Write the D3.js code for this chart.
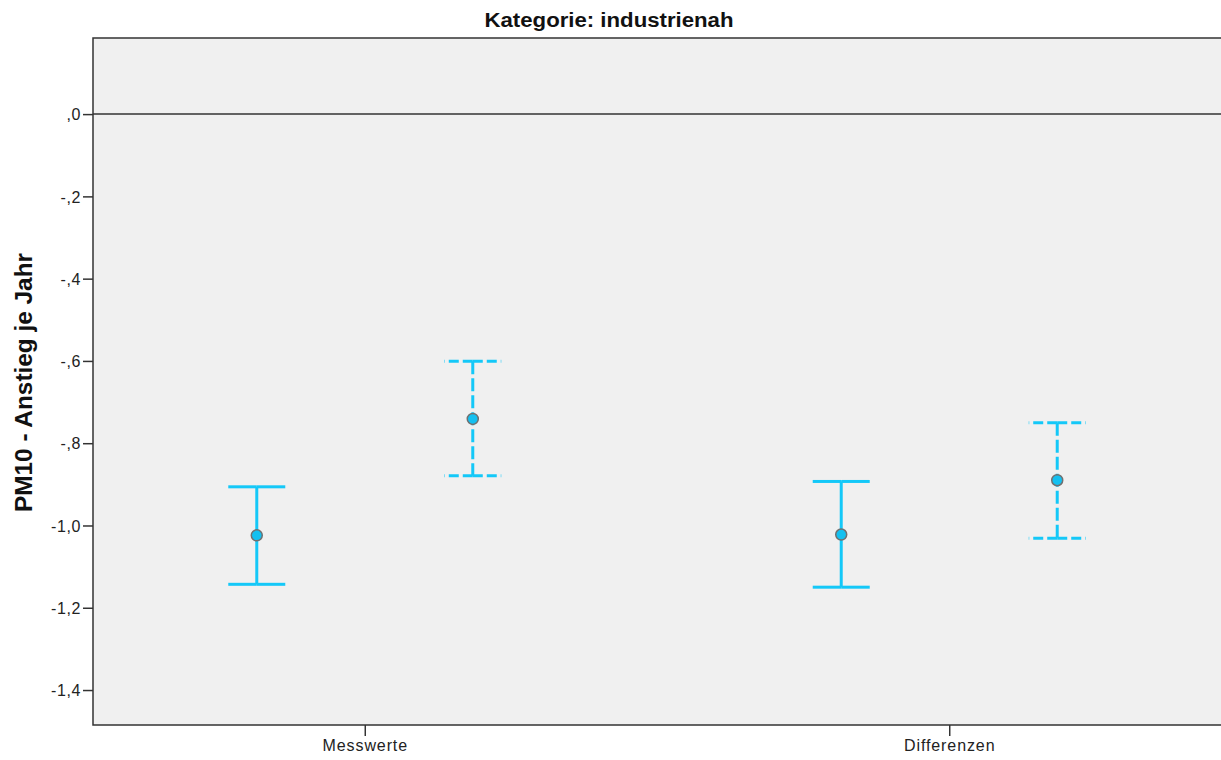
<!DOCTYPE html>
<html><head><meta charset="utf-8">
<script src="https://cdn.jsdelivr.net/npm/d3@7"></script>
<style>body{margin:0;background:#fff}svg{display:block}</style>
</head><body>
<script>
const categories = ["Messwerte", "Differenzen"];
const seriesNames = ["Gruppe 1", "Gruppe 2"];
const meanValues = [[-1.024, -0.741], [-1.022, -0.890]];
const lowerValues = [[-1.143, -0.879], [-1.150, -1.031]];
const upperValues = [[-0.906, -0.601], [-0.893, -0.750]];
const yTicks = [0, -0.2, -0.4, -0.6, -0.8, -1.0, -1.2, -1.4];
const tickLabels = [",0", "-,2", "-,4", "-,6", "-,8", "-1,0", "-1,2", "-1,4"];
const title = "Kategorie: industrienah";
const yTitle = "PM10 - Anstieg je Jahr";

const W = 1221, H = 760;
const L = 93, T = 38, R = 1221, B = 725;
const svg = d3.select("body").append("svg").attr("width", W).attr("height", H);

const y = d3.scaleLinear().domain([0.185, -1.485]).range([T, B]);
const x = d3.scalePoint().domain(categories).range([L, R]).padding(0.465);
const xs = d3.scalePoint().domain(seriesNames).range([-108, 108]);

svg.append("rect").attr("x", L).attr("y", T).attr("width", R - L).attr("height", B - T).attr("fill", "#f0f0f0");

const color = "#14c8f8";
const data = [];
categories.forEach((c, i) => seriesNames.forEach((s, j) => data.push({c, s, j, m: meanValues[i][j], lo: lowerValues[i][j], hi: upperValues[i][j]})));

const g = svg.append("g");
const capW = 28.5;
data.forEach(d => {
  const cx = x(d.c) + xs(d.s);
  const dash = d.j === 1 ? "13,4" : null;
  const gg = g.append("g").attr("stroke", color).attr("stroke-width", 3).attr("fill", "none");
  gg.append("line").attr("x1", cx).attr("x2", cx).attr("y1", y(d.hi)).attr("y2", y(d.lo)).attr("stroke-dasharray", dash);
  [d.hi, d.lo].forEach(v => {
    gg.append("line").attr("x1", cx).attr("x2", cx - capW).attr("y1", y(v)).attr("y2", y(v)).attr("stroke-dasharray", d.j === 1 ? "10,4" : null);
    gg.append("line").attr("x1", cx).attr("x2", cx + capW).attr("y1", y(v)).attr("y2", y(v)).attr("stroke-dasharray", d.j === 1 ? "10,4" : null);
  });
  g.append("circle").attr("cx", cx).attr("cy", y(d.m)).attr("r", 5.5).attr("fill", "#14c0f0").attr("stroke", "#707070").attr("stroke-width", 1.5);
});

// zero reference line
svg.append("line").attr("x1", L).attr("x2", R).attr("y1", y(0)).attr("y2", y(0)).attr("stroke", "#333").attr("stroke-width", 1.5);

// frame: top, left, bottom
svg.append("path").attr("d", `M${R},${T}H${L}V${B}H${R}`).attr("fill", "none").attr("stroke", "#333").attr("stroke-width", 1.5);

const fam = "Arial, 'Liberation Sans', sans-serif";

// y axis
const yAxis = d3.axisLeft(y).tickValues(yTicks).tickSize(10).tickSizeOuter(0).tickFormat((d, i) => tickLabels[i]);
const ya = svg.append("g").attr("transform", `translate(${L},0)`).call(yAxis)
  .attr("font-family", fam).attr("font-size", 16);
ya.select(".domain").remove();
ya.selectAll(".tick line").attr("stroke", "#333").attr("stroke-width", 1.5);
ya.selectAll(".tick text").attr("x", -12).attr("dy", "0.36em").attr("letter-spacing", 0.6).attr("fill", "#222");

// x axis
const xAxis = d3.axisBottom(x).tickSize(11).tickSizeOuter(0);
const xa = svg.append("g").attr("transform", `translate(0,${B})`).call(xAxis)
  .attr("font-family", fam).attr("font-size", 16);
xa.select(".domain").remove();
xa.selectAll(".tick line").attr("stroke", "#333").attr("stroke-width", 1.5);
xa.selectAll(".tick text").attr("y", 15).attr("letter-spacing", 0.9).attr("fill", "#222");

// title
svg.append("text").attr("x", 609).attr("y", 27).attr("text-anchor", "middle")
  .attr("font-family", fam)
  .attr("font-weight", "bold").attr("font-size", 20).attr("fill", "#111")
  .attr("textLength", 249).attr("lengthAdjust", "spacingAndGlyphs").text(title);

// y title
svg.append("text").attr("transform", `translate(32,${(T + B) / 2 + 1}) rotate(-90)`).attr("text-anchor", "middle")
  .attr("font-family", fam).attr("font-weight", "bold").attr("font-size", 23).attr("fill", "#111")
  .attr("textLength", 259).attr("lengthAdjust", "spacingAndGlyphs").text(yTitle);
</script>
</body></html>
